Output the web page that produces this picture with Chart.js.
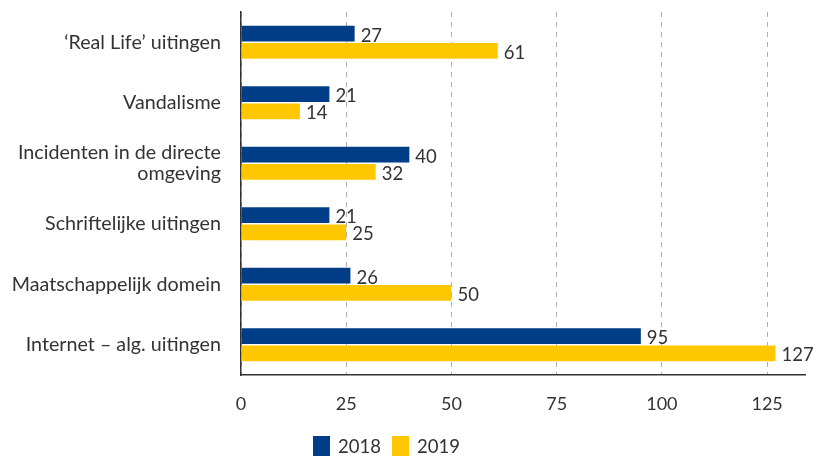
<!DOCTYPE html>
<html>
<head>
<meta charset="utf-8">
<script src="https://cdn.jsdelivr.net/npm/chart.js@4/dist/chart.umd.min.js"></script>
<style>
html,body{margin:0;padding:0;background:#fff;}
#wrap{width:819px;height:456px;position:relative;}
</style>
</head>
<body>
<div id="wrap"><canvas id="chart"></canvas></div>
<script>
const categories = [
  "‘Real Life’ uitingen",
  "Vandalisme",
  ["Incidenten in de directe", "omgeving"],
  "Schriftelijke uitingen",
  "Maatschappelijk domein",
  "Internet – alg. uitingen"
];
const years = ["2018", "2019"];
const values2018 = [27, 21, 40, 21, 26, 95];
const values2019 = [61, 14, 32, 25, 50, 127];
const xTicks = [0, 25, 50, 75, 100, 125];

const BLUE = "#003d87";
const YELLOW = "#ffc700";
const TEXT = "#333333";

Chart.defaults.font.family = "Lato, 'Open Sans', sans-serif";
Chart.defaults.color = TEXT;

/* value labels next to bars */
const valueLabels = {
  id: "valueLabels",
  afterDatasetsDraw(chart){
    const ctx = chart.ctx;
    ctx.save();
    ctx.font = "18.5px Lato";
    ctx.fillStyle = TEXT;
    ctx.textAlign = "left";
    ctx.textBaseline = "middle";
    chart.data.datasets.forEach((ds, i)=>{
      chart.getDatasetMeta(i).data.forEach((bar, j)=>{
        ctx.fillText(ds.data[j], bar.x + 6, bar.y + 2);
      });
    });
    ctx.restore();
  }
};

/* legend below the axis */
const bottomLegend = {
  id: "bottomLegend",
  afterDraw(chart){
    const ctx = chart.ctx;
    ctx.save();
    ctx.font = "18.5px Lato";
    ctx.textBaseline = "middle";
    let x = 313;
    chart.data.datasets.forEach(ds=>{
      ctx.fillStyle = ds.backgroundColor;
      ctx.fillRect(x, 436, 17, 20);
      ctx.fillStyle = TEXT;
      ctx.fillText(ds.label, x + 25, 447);
      x += 79;
    });
    ctx.restore();
  }
};

new Chart(document.getElementById("chart"), {
  type: "bar",
  data: {
    labels: categories,
    datasets: [
      {label: years[0], data: values2018, backgroundColor: BLUE},
      {label: years[1], data: values2019, backgroundColor: YELLOW}
    ]
  },
  options: {
    indexAxis: "y",
    responsive: true,
    maintainAspectRatio: false,
    animation: false,
    layout: {padding: {top: 12, right: 14, bottom: 41, left: 0}},
    datasets: {bar: {categoryPercentage: 0.57, barPercentage: 0.92}},
    plugins: {legend: {display: false}, tooltip: {enabled: false}},
    scales: {
      x: {
        min: 0,
        max: 134,
        afterBuildTicks: s=>{ s.ticks = xTicks.map(v=>({value: v})); },
        afterFit: s=>{ s.height = 40; s.paddingLeft = 0; s.paddingRight = 0; },
        ticks: {font: {size: 18}, padding: 18, color: TEXT},
        grid: {color: "#b0b0b0", drawTicks: false, tickLength: 0},
        border: {color: "#333", width: 1.5, dash: [5, 5]}
      },
      y: {
        afterFit: s=>{ s.width = 241; s.paddingTop = 0; s.paddingBottom = 0; },
        ticks: {font: {size: 19.7, lineHeight: 1.1}, padding: 12, color: TEXT},
        grid: {display: false},
        border: {color: "#333", width: 1.5}
      }
    }
  },
  plugins: [valueLabels, bottomLegend]
});
</script>
</body>
</html>
